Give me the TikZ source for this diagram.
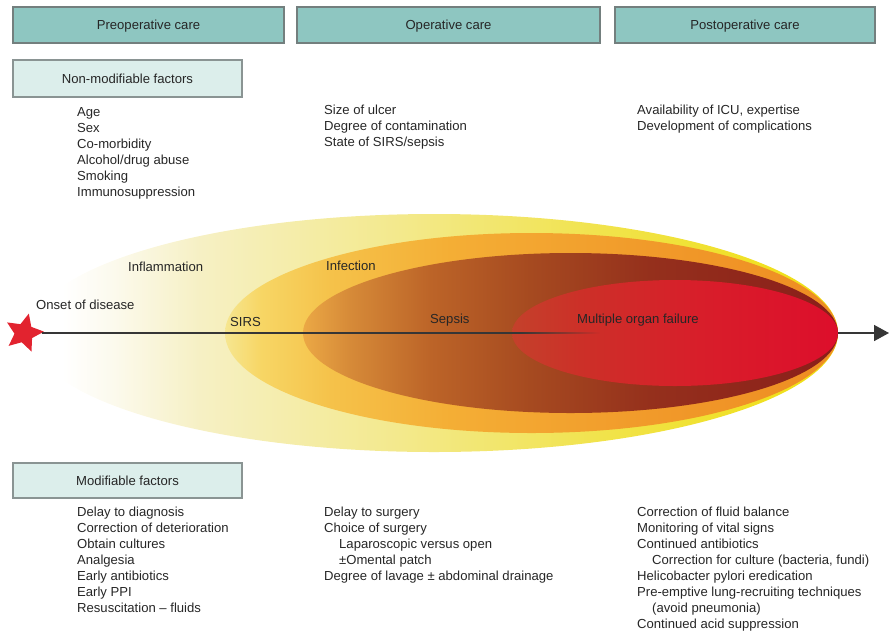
\documentclass[tikz,border=0pt]{standalone}
\usepackage{fontspec}
\setmainfont{Liberation Sans}
\usetikzlibrary{shapes.geometric,arrows.meta,fadings}

% text and box colours
\definecolor{txt}{HTML}{262626}
\definecolor{hdrfill}{HTML}{8EC6C1}
\definecolor{hdrline}{HTML}{737F7E}
\definecolor{subfill}{HTML}{DCEEEB}
\definecolor{subline}{HTML}{8A9493}
\definecolor{axisc}{HTML}{363636}
\definecolor{starred}{HTML}{E2232F}

% outer (inflammation) band
\definecolor{ya}{HTML}{FCFAEE}
\definecolor{yb}{HTML}{F6F0C4}
\definecolor{yc}{HTML}{F3E98C}
\definecolor{yd}{HTML}{F1E34C}
\definecolor{ye}{HTML}{EFDF10}
% infection band
\definecolor{oa}{HTML}{F6E690}
\definecolor{ob}{HTML}{F7D665}
\definecolor{oc}{HTML}{F5C24A}
\definecolor{od}{HTML}{F4AE35}
\definecolor{oe}{HTML}{F19A2A}
\definecolor{of}{HTML}{EE8C22}
% sepsis band
\definecolor{ba}{HTML}{EBA845}
\definecolor{bb}{HTML}{D68A38}
\definecolor{bc}{HTML}{BC6428}
\definecolor{bd}{HTML}{A64A20}
\definecolor{be}{HTML}{95301C}
\definecolor{bf}{HTML}{8A1E1A}
% organ failure core
\definecolor{ra}{HTML}{C4412B}
\definecolor{rb}{HTML}{CC3028}
\definecolor{rc}{HTML}{D81E2A}
\definecolor{rd}{HTML}{DD0E2B}

\pgfdeclarehorizontalshading{yelshade}{100bp}{color(0bp)=(white); color(25bp)=(white);
  color(27bp)=(white); color(30bp)=(ya); color(35.5bp)=(yb); color(47.9bp)=(yc);
  color(60.3bp)=(yd); color(75bp)=(ye); color(100bp)=(ye)}
\pgfdeclarehorizontalshading{orashade}{100bp}{color(0bp)=(oa); color(25bp)=(oa);
  color(27.9bp)=(ob); color(33.6bp)=(oc); color(43.4bp)=(od); color(59.7bp)=(oe);
  color(75bp)=(of); color(100bp)=(of)}
\pgfdeclarehorizontalshading{brnshade}{100bp}{color(0bp)=(ba); color(25bp)=(ba);
  color(29.4bp)=(bb); color(36.9bp)=(bc); color(46.2bp)=(bd); color(57.4bp)=(be);
  color(75bp)=(bf); color(100bp)=(bf)}
\pgfdeclarehorizontalshading{redshade}{100bp}{color(0bp)=(ra); color(25bp)=(ra);
  color(35.4bp)=(rb); color(53.8bp)=(rc); color(75bp)=(rd); color(100bp)=(rd)}

\tikzset{
  lbl/.style={font=\fontsize{13.1}{15}\selectfont, text=txt, inner sep=0pt,
    anchor=west, text height=9.4pt, text depth=0pt},
  hdrbox/.style={draw=hdrline, line width=1.2pt, fill=hdrfill, inner sep=0pt,
    font=\fontsize{13.1}{15}\selectfont, text=txt, text height=9.4pt, text depth=0pt},
  subbox/.style={draw=subline, line width=1.2pt, fill=subfill, inner sep=0pt,
    font=\fontsize{13.1}{15}\selectfont, text=txt, text height=9.4pt, text depth=0pt},
  axisline/.style={draw=axisc, line width=1.6pt},
}

\begin{document}
\begin{tikzpicture}[x=1pt, y=-1pt]
\useasboundingbox (0,0) rectangle (889,633);

% phase headers
\node[hdrbox, minimum width=271pt, minimum height=36pt] (pre)  at (148.5,25) {Preoperative care};
\node[hdrbox, minimum width=303pt, minimum height=36pt] (op)   at (448.5,25) {Operative care};
\node[hdrbox, minimum width=260pt, minimum height=36pt] (post) at (745,25)   {Postoperative care};

\node[subbox, minimum width=229pt, minimum height=37pt] (nonmod) at (127.5,78.5)  {Non-modifiable factors};
\node[subbox, minimum width=229pt, minimum height=35pt] (mod)    at (127.5,480.5) {Modifiable factors};

% nested disease stages, all meeting at the right tip
\path[shading=yelshade] (434,333) ellipse [x radius=404, y radius=119];
\path[shading=orashade] (531.5,333) ellipse [x radius=306.5, y radius=100];
\path[shading=brnshade] (570.5,333) ellipse [x radius=267.5, y radius=80];
\path[shading=redshade] (675,333) ellipse [x radius=163, y radius=53];

% time axis
\node[star, star points=5, star point ratio=2.1, minimum size=40pt, inner sep=0pt,
  fill=starred, rotate=-14] (onset) at (24,333) {};
\coordinate (fa)  at (520,333);
\coordinate (tip) at (838,333);
\coordinate (end) at (889,333);
\draw[axisline] (onset) -- (fa);
\fill[axisc, path fading=east] (fa) ++(0,-0.8) rectangle (600,333.8);
\draw[axisline, -{Triangle[length=15pt,width=16pt]}] (tip) -- (end);

% stage labels
\node[lbl] (infl)  at (128,267) {Inflammation};
\node[lbl] (inf)   at (326,266) {Infection};
\node[lbl] (onlbl) at (36,305)  {Onset of disease};
\node[lbl] (sirs)  at (230,322) {SIRS};
\node[lbl] (seps)  at (430,319) {Sepsis};
\node[lbl] (mof)   at (577,319) {Multiple organ failure};

% non-modifiable factors
\foreach \t [count=\i] in {Age, Sex, Co-morbidity, Alcohol/drug abuse, Smoking, Immunosuppression}
  \node[lbl] (nm\i) at (77,111.5+16*\i-16) {\t};
\foreach \t [count=\i] in {Size of ulcer, Degree of contamination, State of SIRS/sepsis}
  \node[lbl] (onm\i) at (324,110+16*\i-16) {\t};
\foreach \t [count=\i] in {{Availability of ICU, expertise}, Development of complications}
  \node[lbl] (pnm\i) at (637,109.5+16*\i-16) {\t};

% modifiable factors
\foreach \t [count=\i] in {Delay to diagnosis, Correction of deterioration, Obtain cultures,
    Analgesia, Early antibiotics, Early PPI, Resuscitation – fluids}
  \node[lbl] (md\i) at (77,512+16*\i-16) {\t};
\foreach \dx/\t [count=\i] in {0/Delay to surgery, 0/Choice of surgery,
    15/Laparoscopic versus open, 15/±Omental patch, 0/Degree of lavage ± abdominal drainage}
  \node[lbl] (omd\i) at (324+\dx,512+16*\i-16) {\t};
\foreach \dx/\t [count=\i] in {0/Correction of fluid balance, 0/Monitoring of vital signs,
    0/Continued antibiotics, 15/{Correction for culture (bacteria, fundi)},
    0/Helicobacter pylori eredication, 0/Pre-emptive lung-recruiting techniques,
    15/{(avoid pneumonia)}, 0/Continued acid suppression}
  \node[lbl] (pmd\i) at (637+\dx,512+16*\i-16) {\t};
\end{tikzpicture}
\end{document}
